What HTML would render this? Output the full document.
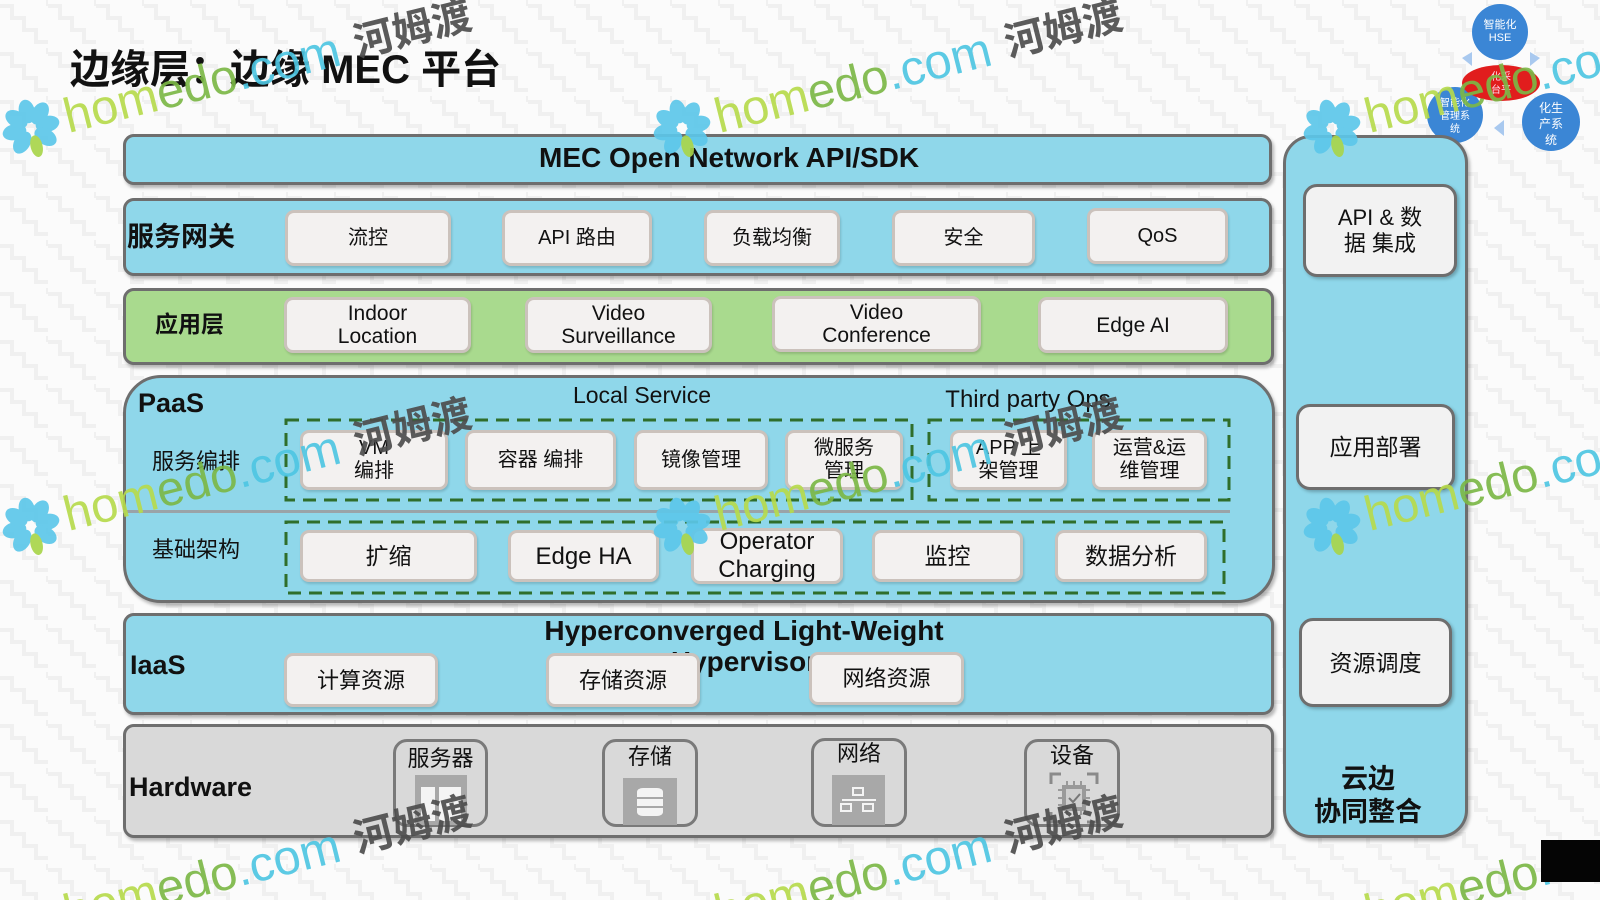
<!DOCTYPE html>
<html><head><meta charset="utf-8">
<style>
*{margin:0;padding:0;box-sizing:border-box}
body{width:1600px;height:900px;position:relative;overflow:hidden;background:#fbfbfb;font-family:"Liberation Sans","Noto Sans CJK SC",sans-serif;color:#111}
.abs{position:absolute}
.c{position:absolute;display:flex;align-items:center;justify-content:center;text-align:center}
.layer{position:absolute;border:3px solid #6e6e6e;border-radius:11px;box-shadow:2px 3px 3px rgba(0,0,0,.28)}
.blue{background:#8fd7ea}
.green{background:#a9da8e}
.gray{background:#d9d9d9}
.bx{position:absolute;display:flex;align-items:center;justify-content:center;text-align:center;background:#f3f1f0;border:3px solid #cbc2bc;border-radius:9px;font-size:20px;line-height:23px;box-shadow:1px 2px 2px rgba(0,0,0,.15)}
.rb{position:absolute;display:flex;align-items:center;justify-content:center;text-align:center;background:#f2f2f2;border:3px solid #6e6e6e;border-radius:14px;font-size:22px;line-height:26px;box-shadow:2px 2px 3px rgba(0,0,0,.25)}
.hw{position:absolute;border:3px solid #7a7a7a;border-radius:14px}
.hwl{position:absolute;left:0;right:0;top:4px;text-align:center;font-size:22px;line-height:26px}
.b{font-weight:bold}
</style></head><body>

<!-- background pattern and top-right circles -->
<svg class="abs" style="left:0;top:0;z-index:0" width="1600" height="900">
<defs>
<pattern id="zz" width="48" height="48" patternUnits="userSpaceOnUse">
<path d="M0 6 h12 v12 h12 v12 h12 v12 h12" fill="none" stroke="#f0f0f0" stroke-width="4"/>
<path d="M24 -18 h12 v12 h12 v12" fill="none" stroke="#f0f0f0" stroke-width="4"/>
</pattern>
</defs>
<rect width="1600" height="900" fill="url(#zz)"/>
<!-- arrows -->
<path d="M1462 58 l10 -6 l0 14 z" fill="#a9c9ef"/>
<path d="M1540 58 l-10 -6 l0 14 z" fill="#a9c9ef"/>
<path d="M1494 128 l10 -8 l0 16 z" fill="#a9c9ef"/>
<circle cx="1500" cy="32" r="28" fill="#3b86d5"/>
<circle cx="1455" cy="115" r="28" fill="#3b86d5"/>
<circle cx="1551" cy="122" r="29" fill="#3b86d5"/>
<ellipse cx="1501" cy="83" rx="39" ry="18" fill="#e11d1d"/>
<text x="1500" y="28" font-size="11" fill="#fff" text-anchor="middle" font-family="Liberation Sans,Noto Sans CJK SC,sans-serif">智能化</text>
<text x="1500" y="41" font-size="11" fill="#fff" text-anchor="middle" font-family="Liberation Sans,sans-serif">HSE</text>
<text x="1501" y="80" font-size="10" fill="#fde" text-anchor="middle" font-family="Noto Sans CJK SC,sans-serif">化采</text>
<text x="1501" y="93" font-size="10" fill="#fde" text-anchor="middle" font-family="Noto Sans CJK SC,sans-serif">台平</text>
<text x="1455" y="106" font-size="10" fill="#fff" text-anchor="middle" font-family="Noto Sans CJK SC,sans-serif">智能化</text>
<text x="1455" y="119" font-size="10" fill="#fff" text-anchor="middle" font-family="Noto Sans CJK SC,sans-serif">管理系</text>
<text x="1455" y="132" font-size="10" fill="#fff" text-anchor="middle" font-family="Noto Sans CJK SC,sans-serif">统</text>
<text x="1551" y="112" font-size="12" fill="#fff" text-anchor="middle" font-family="Noto Sans CJK SC,sans-serif">化生</text>
<text x="1551" y="128" font-size="12" fill="#fff" text-anchor="middle" font-family="Noto Sans CJK SC,sans-serif">产系</text>
<text x="1551" y="144" font-size="12" fill="#fff" text-anchor="middle" font-family="Noto Sans CJK SC,sans-serif">统</text>
</svg>

<!-- title -->
<div class="abs b" style="left:70px;top:46px;font-size:40px;line-height:48px;white-space:nowrap;z-index:1">边缘层：边缘 MEC 平台</div>

<div style="position:absolute;left:0;top:0;width:1600px;height:900px;z-index:1">
<!-- MEC bar -->
<div class="layer blue" style="left:123px;top:134px;width:1149px;height:51px"></div>
<div class="abs b" style="left:539px;top:141px;font-size:28px;line-height:34px;white-space:nowrap">MEC Open Network API/SDK</div>

<!-- gateway -->
<div class="layer blue" style="left:123px;top:198px;width:1149px;height:78px"></div>
<div class="abs b" style="left:127px;top:221px;font-size:27px;line-height:32px">服务网关</div>
<div class="bx" style="left:285px;top:210px;width:166px;height:56px">流控</div>
<div class="bx" style="left:502px;top:210px;width:150px;height:56px">API 路由</div>
<div class="bx" style="left:704px;top:210px;width:136px;height:56px">负载均衡</div>
<div class="bx" style="left:892px;top:210px;width:143px;height:56px">安全</div>
<div class="bx" style="left:1087px;top:208px;width:141px;height:56px">QoS</div>

<!-- app layer -->
<div class="layer green" style="left:123px;top:288px;width:1151px;height:77px"></div>
<div class="abs b" style="left:155px;top:310px;font-size:23px;line-height:28px">应用层</div>
<div class="bx" style="left:284px;top:297px;width:187px;height:56px;font-size:21px">Indoor<br>Location</div>
<div class="bx" style="left:525px;top:297px;width:187px;height:56px;font-size:21px">Video<br>Surveillance</div>
<div class="bx" style="left:772px;top:296px;width:209px;height:56px;font-size:21px">Video<br>Conference</div>
<div class="bx" style="left:1038px;top:297px;width:190px;height:56px;font-size:21px">Edge AI</div>

<!-- PaaS -->
<div class="layer blue" style="left:123px;top:375px;width:1152px;height:228px;border-radius:38px"></div>
<div class="abs b" style="left:138px;top:387px;font-size:27px;line-height:32px">PaaS</div>
<div class="abs" style="left:542px;top:381px;width:200px;text-align:center;font-size:23px;line-height:28px">Local Service</div>
<div class="abs" style="left:918px;top:386px;width:220px;text-align:center;font-size:24px;line-height:28px">Third party Ops</div>
<div class="abs" style="left:123px;top:510px;width:1107px;height:3px;background:#9aa3a8"></div>
<div class="abs" style="left:152px;top:449px;font-size:22px;line-height:26px">服务编排</div>
<div class="abs" style="left:152px;top:537px;font-size:22px;line-height:26px">基础架构</div>

<div class="bx" style="left:300px;top:430px;width:148px;height:60px">VM<br>编排</div>
<div class="bx" style="left:465px;top:430px;width:151px;height:60px">容器 编排</div>
<div class="bx" style="left:634px;top:430px;width:134px;height:60px">镜像管理</div>
<div class="bx" style="left:785px;top:430px;width:118px;height:60px">微服务<br>管理</div>
<div class="bx" style="left:950px;top:430px;width:117px;height:60px">APP 上<br>架管理</div>
<div class="bx" style="left:1092px;top:430px;width:115px;height:60px">运营&amp;运<br>维管理</div>

<div class="bx" style="left:300px;top:530px;width:177px;height:52px;font-size:23px">扩缩</div>
<div class="bx" style="left:508px;top:530px;width:151px;height:52px;font-size:24px">Edge HA</div>
<div class="bx" style="left:691px;top:528px;width:152px;height:56px;font-size:24px;line-height:28px">Operator<br>Charging</div>
<div class="bx" style="left:872px;top:530px;width:151px;height:52px;font-size:23px">监控</div>
<div class="bx" style="left:1055px;top:530px;width:152px;height:52px;font-size:23px">数据分析</div>

<!-- IaaS -->
<div class="layer blue" style="left:123px;top:613px;width:1151px;height:102px"></div>
<div class="abs b" style="left:130px;top:649px;font-size:27px;line-height:32px">IaaS</div>
<div class="abs b" style="left:444px;top:615px;width:600px;text-align:center;font-size:28px;line-height:31px">Hyperconverged Light-Weight<br>Hypervisor</div>
<div class="bx" style="left:284px;top:653px;width:154px;height:54px;font-size:22px">计算资源</div>
<div class="bx" style="left:546px;top:653px;width:154px;height:54px;font-size:22px">存储资源</div>
<div class="bx" style="left:809px;top:652px;width:155px;height:53px;font-size:22px">网络资源</div>

<!-- Hardware -->
<div class="layer gray" style="left:123px;top:724px;width:1151px;height:114px"></div>
<div class="abs b" style="left:129px;top:771px;font-size:27px;line-height:32px">Hardware</div>

<div class="hw" style="left:393px;top:739px;width:95px;height:88px">
  <div class="hwl">服务器</div>
  <div class="abs" style="left:19px;top:33px;width:52px;height:50px;background:#a8a8a8">
    <div class="abs" style="left:6px;top:12px;width:14px;height:34px;background:#f4f4f4"></div>
    <div class="abs" style="left:24px;top:12px;width:22px;height:34px;background:#f4f4f4"></div>
  </div>
</div>
<div class="hw" style="left:602px;top:739px;width:96px;height:88px">
  <div class="hwl" style="top:2px">存储</div>
  <div class="abs" style="left:18px;top:36px;width:54px;height:47px;background:#a8a8a8">
    <div class="abs" style="left:14px;top:10px;width:26px;height:28px;background:#f4f4f4;border-radius:6px/4px"></div>
    <div class="abs" style="left:14px;top:19px;width:26px;height:2px;background:#a8a8a8"></div>
    <div class="abs" style="left:14px;top:28px;width:26px;height:2px;background:#a8a8a8"></div>
  </div>
</div>
<div class="hw" style="left:811px;top:738px;width:96px;height:89px">
  <div class="hwl" style="top:0">网络</div>
  <div class="abs" style="left:18px;top:34px;width:53px;height:50px;background:#a8a8a8">
    <div class="abs" style="left:20px;top:12px;width:12px;height:9px;border:2px solid #f4f4f4"></div>
    <div class="abs" style="left:10px;top:24px;width:34px;height:2px;background:#f4f4f4"></div>
    <div class="abs" style="left:8px;top:28px;width:12px;height:9px;border:2px solid #f4f4f4"></div>
    <div class="abs" style="left:30px;top:28px;width:12px;height:9px;border:2px solid #f4f4f4"></div>
  </div>
</div>
<div class="hw" style="left:1024px;top:739px;width:96px;height:88px">
  <div class="hwl" style="top:1px">设备</div>
  <svg class="abs" style="left:22px;top:30px" width="50" height="52">
    <g fill="none" stroke="#8a8a8a" stroke-width="3">
      <path d="M2 12 V2 H12"/><path d="M38 2 H48 V12"/><path d="M2 40 V50 H12"/><path d="M38 50 H48 V40"/>
    </g>
    <rect x="13" y="13" width="24" height="26" fill="#9a9a9a"/>
    <rect x="17" y="17" width="16" height="18" fill="#cfcfcf"/>
    <path d="M20 26 l4 4 l7 -8" fill="none" stroke="#777" stroke-width="2"/>
    <g stroke="#9a9a9a" stroke-width="2"><path d="M18 9 v4 M25 9 v4 M32 9 v4 M18 39 v4 M25 39 v4 M32 39 v4 M9 18 h4 M9 26 h4 M9 33 h4 M37 18 h4 M37 26 h4 M37 33 h4"/></g>
  </svg>
</div>

<!-- right column -->
<div class="layer blue" style="left:1283px;top:135px;width:185px;height:703px;border-radius:28px"></div>
<div class="rb" style="left:1303px;top:184px;width:154px;height:93px">API &amp; 数<br>据 集成</div>
<div class="rb" style="left:1296px;top:404px;width:159px;height:86px;font-size:23px">应用部署</div>
<div class="rb" style="left:1299px;top:618px;width:153px;height:89px;font-size:23px">资源调度</div>
<div class="abs b" style="left:1293px;top:763px;width:150px;text-align:center;font-size:27px;line-height:33px">云边<br>协同整合</div>
</div>

<!-- dashed boxes + watermarks overlay -->
<svg class="abs" style="left:0;top:0;z-index:2" width="1600" height="900" font-family="Liberation Sans, Noto Sans CJK SC, sans-serif">
<g fill="none" stroke="#2f6e2b" stroke-width="3" stroke-dasharray="13 8">
<rect x="286" y="420" width="626" height="80"/>
<rect x="929" y="420" width="300" height="80"/>
<rect x="286" y="522" width="938" height="71"/>
</g>

<g opacity="0.92">
<g transform="translate(31,128) rotate(-14)">
 <g><ellipse cx="0" cy="-17" rx="8" ry="12" fill="#5cc7ea"/><ellipse cx="12" cy="-12" rx="8" ry="12" transform="rotate(45 12 -12)" fill="#5cc7ea"/><ellipse cx="17" cy="0" rx="12" ry="8" fill="#5cc7ea"/><ellipse cx="12" cy="12" rx="8" ry="12" transform="rotate(-45 12 12)" fill="#5cc7ea"/><ellipse cx="-12" cy="12" rx="8" ry="12" transform="rotate(45 -12 12)" fill="#5cc7ea"/><ellipse cx="-17" cy="0" rx="12" ry="8" fill="#5cc7ea"/><ellipse cx="-12" cy="-12" rx="8" ry="12" transform="rotate(-45 -12 -12)" fill="#5cc7ea"/><ellipse cx="1" cy="19" rx="6" ry="11" fill="#a8d54a"/></g>
 <text x="35" y="14" font-size="49"><tspan fill="#b6da4c">hom</tspan><tspan fill="#7cb846">edo</tspan><tspan fill="#4ec6e2">.com</tspan></text>
 <text x="334" y="10" font-size="40" font-weight="bold" fill="#4d4d4d">河姆渡</text>
</g>
<g transform="translate(682,128) rotate(-14)">
 <g><ellipse cx="0" cy="-17" rx="8" ry="12" fill="#5cc7ea"/><ellipse cx="12" cy="-12" rx="8" ry="12" transform="rotate(45 12 -12)" fill="#5cc7ea"/><ellipse cx="17" cy="0" rx="12" ry="8" fill="#5cc7ea"/><ellipse cx="12" cy="12" rx="8" ry="12" transform="rotate(-45 12 12)" fill="#5cc7ea"/><ellipse cx="-12" cy="12" rx="8" ry="12" transform="rotate(45 -12 12)" fill="#5cc7ea"/><ellipse cx="-17" cy="0" rx="12" ry="8" fill="#5cc7ea"/><ellipse cx="-12" cy="-12" rx="8" ry="12" transform="rotate(-45 -12 -12)" fill="#5cc7ea"/><ellipse cx="1" cy="19" rx="6" ry="11" fill="#a8d54a"/></g>
 <text x="35" y="14" font-size="49"><tspan fill="#b6da4c">hom</tspan><tspan fill="#7cb846">edo</tspan><tspan fill="#4ec6e2">.com</tspan></text>
 <text x="334" y="10" font-size="40" font-weight="bold" fill="#4d4d4d">河姆渡</text>
</g>
<g transform="translate(1332,128) rotate(-14)">
 <g><ellipse cx="0" cy="-17" rx="8" ry="12" fill="#5cc7ea"/><ellipse cx="12" cy="-12" rx="8" ry="12" transform="rotate(45 12 -12)" fill="#5cc7ea"/><ellipse cx="17" cy="0" rx="12" ry="8" fill="#5cc7ea"/><ellipse cx="12" cy="12" rx="8" ry="12" transform="rotate(-45 12 12)" fill="#5cc7ea"/><ellipse cx="-12" cy="12" rx="8" ry="12" transform="rotate(45 -12 12)" fill="#5cc7ea"/><ellipse cx="-17" cy="0" rx="12" ry="8" fill="#5cc7ea"/><ellipse cx="-12" cy="-12" rx="8" ry="12" transform="rotate(-45 -12 -12)" fill="#5cc7ea"/><ellipse cx="1" cy="19" rx="6" ry="11" fill="#a8d54a"/></g>
 <text x="35" y="14" font-size="49"><tspan fill="#b6da4c">hom</tspan><tspan fill="#7cb846">edo</tspan><tspan fill="#4ec6e2">.com</tspan></text>
</g>
<g transform="translate(31,526) rotate(-14)">
 <g><ellipse cx="0" cy="-17" rx="8" ry="12" fill="#5cc7ea"/><ellipse cx="12" cy="-12" rx="8" ry="12" transform="rotate(45 12 -12)" fill="#5cc7ea"/><ellipse cx="17" cy="0" rx="12" ry="8" fill="#5cc7ea"/><ellipse cx="12" cy="12" rx="8" ry="12" transform="rotate(-45 12 12)" fill="#5cc7ea"/><ellipse cx="-12" cy="12" rx="8" ry="12" transform="rotate(45 -12 12)" fill="#5cc7ea"/><ellipse cx="-17" cy="0" rx="12" ry="8" fill="#5cc7ea"/><ellipse cx="-12" cy="-12" rx="8" ry="12" transform="rotate(-45 -12 -12)" fill="#5cc7ea"/><ellipse cx="1" cy="19" rx="6" ry="11" fill="#a8d54a"/></g>
 <text x="35" y="14" font-size="49"><tspan fill="#b6da4c">hom</tspan><tspan fill="#7cb846">edo</tspan><tspan fill="#4ec6e2">.com</tspan></text>
 <text x="334" y="10" font-size="40" font-weight="bold" fill="#4d4d4d">河姆渡</text>
</g>
<g transform="translate(682,526) rotate(-14)">
 <g><ellipse cx="0" cy="-17" rx="8" ry="12" fill="#5cc7ea"/><ellipse cx="12" cy="-12" rx="8" ry="12" transform="rotate(45 12 -12)" fill="#5cc7ea"/><ellipse cx="17" cy="0" rx="12" ry="8" fill="#5cc7ea"/><ellipse cx="12" cy="12" rx="8" ry="12" transform="rotate(-45 12 12)" fill="#5cc7ea"/><ellipse cx="-12" cy="12" rx="8" ry="12" transform="rotate(45 -12 12)" fill="#5cc7ea"/><ellipse cx="-17" cy="0" rx="12" ry="8" fill="#5cc7ea"/><ellipse cx="-12" cy="-12" rx="8" ry="12" transform="rotate(-45 -12 -12)" fill="#5cc7ea"/><ellipse cx="1" cy="19" rx="6" ry="11" fill="#a8d54a"/></g>
 <text x="35" y="14" font-size="49"><tspan fill="#b6da4c">hom</tspan><tspan fill="#7cb846">edo</tspan><tspan fill="#4ec6e2">.com</tspan></text>
 <text x="334" y="10" font-size="40" font-weight="bold" fill="#4d4d4d">河姆渡</text>
</g>
<g transform="translate(1332,526) rotate(-14)">
 <g><ellipse cx="0" cy="-17" rx="8" ry="12" fill="#5cc7ea"/><ellipse cx="12" cy="-12" rx="8" ry="12" transform="rotate(45 12 -12)" fill="#5cc7ea"/><ellipse cx="17" cy="0" rx="12" ry="8" fill="#5cc7ea"/><ellipse cx="12" cy="12" rx="8" ry="12" transform="rotate(-45 12 12)" fill="#5cc7ea"/><ellipse cx="-12" cy="12" rx="8" ry="12" transform="rotate(45 -12 12)" fill="#5cc7ea"/><ellipse cx="-17" cy="0" rx="12" ry="8" fill="#5cc7ea"/><ellipse cx="-12" cy="-12" rx="8" ry="12" transform="rotate(-45 -12 -12)" fill="#5cc7ea"/><ellipse cx="1" cy="19" rx="6" ry="11" fill="#a8d54a"/></g>
 <text x="35" y="14" font-size="49"><tspan fill="#b6da4c">hom</tspan><tspan fill="#7cb846">edo</tspan><tspan fill="#4ec6e2">.com</tspan></text>
</g>
<g transform="translate(31,924) rotate(-14)">
 <text x="35" y="14" font-size="49"><tspan fill="#b6da4c">hom</tspan><tspan fill="#7cb846">edo</tspan><tspan fill="#4ec6e2">.com</tspan></text>
 <text x="334" y="10" font-size="40" font-weight="bold" fill="#4d4d4d">河姆渡</text>
</g>
<g transform="translate(682,924) rotate(-14)">
 <text x="35" y="14" font-size="49"><tspan fill="#b6da4c">hom</tspan><tspan fill="#7cb846">edo</tspan><tspan fill="#4ec6e2">.com</tspan></text>
 <text x="334" y="10" font-size="40" font-weight="bold" fill="#4d4d4d">河姆渡</text>
</g>
<g transform="translate(1332,924) rotate(-14)">
 <text x="35" y="14" font-size="49"><tspan fill="#b6da4c">hom</tspan><tspan fill="#7cb846">edo</tspan><tspan fill="#4ec6e2">.com</tspan></text>
</g>
</g>
<rect x="1541" y="840" width="59" height="42" fill="#050505"/>
</svg>
</body></html>
